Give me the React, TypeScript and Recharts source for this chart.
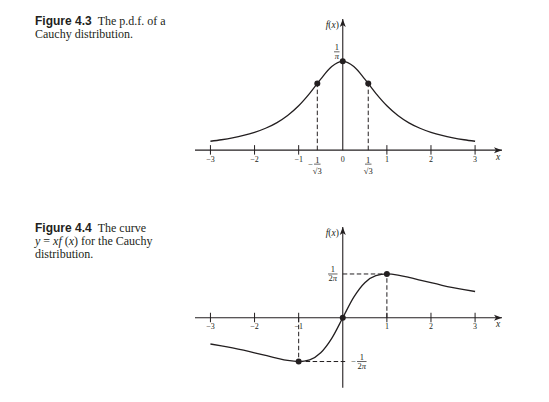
import React from 'react';
import { LineChart, Line, XAxis, YAxis, ReferenceLine, ReferenceDot } from 'recharts';

// ---- data ----
const xValues = [-3, -2.75, -2.5, -2.25, -2, -1.75, -1.5, -1.25, -1, -0.75, -0.5, -0.25, 0, 0.25, 0.5, 0.75, 1, 1.25, 1.5, 1.75, 2, 2.25, 2.5, 2.75, 3];
const pdfValues = [0.0318, 0.0372, 0.0439, 0.0525, 0.0637, 0.0784, 0.0979, 0.1242, 0.1592, 0.2037, 0.2546, 0.2996, 0.3183, 0.2996, 0.2546, 0.2037, 0.1592, 0.1242, 0.0979, 0.0784, 0.0637, 0.0525, 0.0439, 0.0372, 0.0318];
const xfValues = [-0.0955, -0.1023, -0.1098, -0.1181, -0.1273, -0.1372, -0.1469, -0.1553, -0.1592, -0.1528, -0.1273, -0.0749, 0, 0.0749, 0.1273, 0.1528, 0.1592, 0.1553, 0.1469, 0.1372, 0.1273, 0.1181, 0.1098, 0.1023, 0.0955];

const pdfKeyX = [-0.5774, 0, 0.5774];
const pdfKeyY = [0.2387, 0.3183, 0.2387];
const xfKeyX = [-1, 0, 1];
const xfKeyY = [-0.1592, 0, 0.1592];

const tickValues = [-3, -2, -1, 1, 2, 3];
const tickLabels = ['\u22123', '\u22122', '\u22121', '1', '2', '3'];

const xDomain: [number, number] = [-3.35, 3.61];
const topYDomain: [number, number] = [-0.12, 0.47];
const bottomYDomain: [number, number] = [-0.2545, 0.33];

const pdfData = xValues.map((x, i) => ({ x, y: pdfValues[i] }));
const xfData = xValues.map((x, i) => ({ x, y: xfValues[i] }));

const INK = '#231f20';
const SERIF = '"Liberation Serif", "Times New Roman", serif';

type FracProps = { cx: number; barY: number; num: React.ReactNode; den: React.ReactNode; w: number; minus?: boolean; denDy?: number; numDy?: number; size?: number };
function Frac({ cx, barY, num, den, w, minus, denDy = 8, numDy = 1.6, size = 8.5 }: FracProps) {
  return (
    <g fontFamily={SERIF} fontSize={size} fill={INK}>
      <text x={cx} y={barY - numDy} textAnchor="middle">{num}</text>
      <line x1={cx - w / 2} x2={cx + w / 2} y1={barY} y2={barY} stroke={INK} strokeWidth={0.7} />
      <text x={cx} y={barY + denDy} textAnchor="middle">{den}</text>
      {minus && (
        <text x={cx - w / 2 - 1} y={barY + 2.8} textAnchor="end">{'\u2212'}</text>
      )}
    </g>
  );
}

const arrowRight = (p: any) => (
  <path d={`M${p.cx},${p.cy} L${p.cx - 8},${p.cy - 3} L${p.cx - 6},${p.cy} L${p.cx - 8},${p.cy + 3} Z`} fill={INK} />
);
const arrowUp = (p: any) => (
  <path d={`M${p.cx},${p.cy} L${p.cx - 3},${p.cy + 8} L${p.cx},${p.cy + 6} L${p.cx + 3},${p.cy + 8} Z`} fill={INK} />
);

const tickShape = (label: string) => (p: any) => (
  <g>
    <line x1={p.cx} x2={p.cx} y1={p.cy - 5} y2={p.cy + 4.5} stroke={INK} strokeWidth={1} />
    <text x={p.cx} y={p.cy + 11.5} textAnchor="middle" fontFamily={SERIF} fontSize={8} fill={INK}>{label}</text>
  </g>
);

const dotShape = (p: any) => <circle cx={p.cx} cy={p.cy} r={3} fill={INK} />;

const xLabel = (p: any) => (
  <text x={p.cx - 4} y={p.cy + 9.5} textAnchor="middle" fontFamily={SERIF} fontStyle="italic" fontSize={9.5} fill={INK}>x</text>
);
const fxLabel = (p: any) => (
  <text x={p.cx - 10.5} y={p.cy + 8.5} textAnchor="middle" fontFamily={SERIF} fontSize={9.5} fill={INK}>
    <tspan fontStyle="italic">f</tspan>(<tspan fontStyle="italic">x</tspan>)
  </text>
);

const piDen = <tspan fontStyle="italic">{'\u03c0'}</tspan>;
const twoPiDen = <>2<tspan fontStyle="italic">{'\u03c0'}</tspan></>;

const dash = '4.5 2.5';

function TopChart() {
  return (
    <LineChart width={549} height={200} data={pdfData} margin={{ top: 19, right: 47, bottom: 200 - 19 - 0.59 * 279, left: 195 }}>
      <XAxis type="number" dataKey="x" domain={xDomain} hide allowDataOverflow />
      <YAxis type="number" domain={topYDomain} hide allowDataOverflow />
      {/* axes */}
      <ReferenceLine y={0} stroke={INK} strokeWidth={1.1} ifOverflow="visible" />
      <ReferenceLine segment={[{ x: 0, y: 0 }, { x: 0, y: topYDomain[1] }]} stroke={INK} strokeWidth={1.1} ifOverflow="visible" />
      <ReferenceDot x={xDomain[1]} y={0} shape={arrowRight} ifOverflow="visible" />
      <ReferenceDot x={0} y={topYDomain[1]} shape={arrowUp} ifOverflow="visible" />
      <ReferenceDot x={xDomain[1]} y={0} shape={xLabel} ifOverflow="visible" />
      <ReferenceDot x={0} y={topYDomain[1]} shape={fxLabel} ifOverflow="visible" />
      {tickValues.map((t, i) => (
        <ReferenceDot key={t} x={t} y={0} shape={tickShape(tickLabels[i])} ifOverflow="visible" />
      ))}
      <ReferenceDot x={0} y={0} shape={(p: any) => (
        <text x={p.cx} y={p.cy + 11.5} textAnchor="middle" fontFamily={SERIF} fontSize={8} fill={INK}>0</text>
      )} ifOverflow="visible" />
      {/* dashed guides */}
      <ReferenceLine segment={[{ x: pdfKeyX[0], y: 0 }, { x: pdfKeyX[0], y: pdfKeyY[0] }]} stroke={INK} strokeDasharray={dash} ifOverflow="visible" />
      <ReferenceLine segment={[{ x: pdfKeyX[2], y: 0 }, { x: pdfKeyX[2], y: pdfKeyY[2] }]} stroke={INK} strokeDasharray={dash} ifOverflow="visible" />
      <Line type="monotone" dataKey="y" stroke={INK} strokeWidth={1.3} dot={false} isAnimationActive={false} />
      {pdfKeyX.map((x, i) => (
        <ReferenceDot key={'k' + i} x={x} y={pdfKeyY[i]} shape={dotShape} ifOverflow="visible" />
      ))}
      {/* fraction labels */}
      <ReferenceDot x={0} y={pdfKeyY[1]} ifOverflow="visible" shape={(p: any) => (
        <Frac cx={p.cx - 6} barY={p.cy - 9.5} num="1" den={piDen} w={5.5} denDy={7.2} numDy={2} />
      )} />
      <ReferenceDot x={pdfKeyX[0]} y={0} ifOverflow="visible" shape={(p: any) => (
        <Frac cx={p.cx} barY={p.cy + 14} num="1" den={'\u221a3'} w={6.5} minus denDy={9.5} />
      )} />
      <ReferenceDot x={pdfKeyX[2]} y={0} ifOverflow="visible" shape={(p: any) => (
        <Frac cx={p.cx} barY={p.cy + 14} num="1" den={'\u221a3'} w={6.5} denDy={9.5} />
      )} />
    </LineChart>
  );
}

function BottomChart() {
  const scale = 275;
  const top = 27;
  const plotH = (bottomYDomain[1] - bottomYDomain[0]) * scale;
  return (
    <LineChart width={549} height={202} data={xfData} margin={{ top, right: 47, bottom: 202 - top - plotH, left: 195 }}>
      <XAxis type="number" dataKey="x" domain={xDomain} hide allowDataOverflow />
      <YAxis type="number" domain={bottomYDomain} hide allowDataOverflow />
      <ReferenceLine y={0} stroke={INK} strokeWidth={1.1} ifOverflow="visible" />
      <ReferenceLine segment={[{ x: 0, y: bottomYDomain[0] }, { x: 0, y: bottomYDomain[1] }]} stroke={INK} strokeWidth={1.1} ifOverflow="visible" />
      <ReferenceDot x={xDomain[1]} y={0} shape={arrowRight} ifOverflow="visible" />
      <ReferenceDot x={0} y={bottomYDomain[1]} shape={arrowUp} ifOverflow="visible" />
      <ReferenceDot x={xDomain[1]} y={0} shape={xLabel} ifOverflow="visible" />
      <ReferenceDot x={0} y={bottomYDomain[1]} shape={fxLabel} ifOverflow="visible" />
      {tickValues.map((t, i) => (
        <ReferenceDot key={t} x={t} y={0} shape={tickShape(tickLabels[i])} ifOverflow="visible" />
      ))}
      {/* dashed guides */}
      <ReferenceLine segment={[{ x: 0, y: xfKeyY[2] }, { x: xfKeyX[2], y: xfKeyY[2] }]} stroke={INK} strokeDasharray={dash} ifOverflow="visible" />
      <ReferenceLine segment={[{ x: xfKeyX[2], y: 0 }, { x: xfKeyX[2], y: xfKeyY[2] }]} stroke={INK} strokeDasharray={dash} ifOverflow="visible" />
      <ReferenceLine segment={[{ x: xfKeyX[0], y: 0 }, { x: xfKeyX[0], y: xfKeyY[0] }]} stroke={INK} strokeDasharray={dash} ifOverflow="visible" />
      <ReferenceLine segment={[{ x: xfKeyX[0], y: xfKeyY[0] }, { x: 0.08, y: xfKeyY[0] }]} stroke={INK} strokeDasharray={dash} ifOverflow="visible" />
      <Line type="monotone" dataKey="y" stroke={INK} strokeWidth={1.3} dot={false} isAnimationActive={false} />
      {xfKeyX.map((x, i) => (
        <ReferenceDot key={'k' + i} x={x} y={xfKeyY[i]} shape={dotShape} ifOverflow="visible" />
      ))}
      <ReferenceDot x={0} y={xfKeyY[2]} ifOverflow="visible" shape={(p: any) => (
        <Frac cx={p.cx - 10} barY={p.cy} num="1" den={twoPiDen} w={9.5} denDy={7.2} />
      )} />
      <ReferenceDot x={0} y={xfKeyY[0]} ifOverflow="visible" shape={(p: any) => (
        <Frac cx={p.cx + 19} barY={p.cy} num="1" den={twoPiDen} w={9.5} minus denDy={7.2} />
      )} />
    </LineChart>
  );
}

const captionStyle: React.CSSProperties = {
  position: 'absolute',
  left: 35,
  fontFamily: SERIF,
  fontSize: 12,
  lineHeight: '13px',
  color: INK,
  whiteSpace: 'nowrap',
};
const figLabel: React.CSSProperties = { fontFamily: '"Liberation Sans", Arial, sans-serif', fontWeight: 700, marginRight: 6 };

export default function App() {
  return (
    <div style={{ position: 'absolute', left: 0, top: 0, width: 549, height: 402, background: '#fff', overflow: 'hidden' }}>
      <div style={{ ...captionStyle, top: 15 }}>
        <span style={figLabel}>Figure 4.3</span>The p.d.f. of a<br />Cauchy distribution.
      </div>
      <div style={{ ...captionStyle, top: 222 }}>
        <span style={figLabel}>Figure 4.4</span>The curve<br />
        <i>y</i> = <i>xf</i> (<i>x</i>) for the Cauchy<br />distribution.
      </div>
      <div style={{ position: 'absolute', left: 0, top: 0 }}>
        <TopChart />
      </div>
      <div style={{ position: 'absolute', left: 0, top: 200 }}>
        <BottomChart />
      </div>
    </div>
  );
}
